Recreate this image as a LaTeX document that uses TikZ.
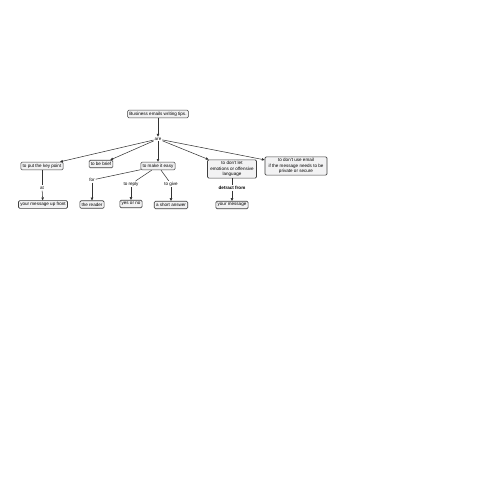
\documentclass[tikz,border=0pt]{standalone}
\usepackage{fontspec}
\setmainfont{Liberation Sans}
\usetikzlibrary{arrows.meta}

\begin{document}
\begin{tikzpicture}[x=0.02cm, y=-0.02cm,
    concept/.style={rectangle, rounded corners=0.7pt, draw=black!75, line width=0.35pt, fill=blue!3!gray!10, inner sep=1pt, minimum height=7.5*0.02cm, align=center, font=\fontsize{2.6}{3}\selectfont},
    phrase/.style={inner sep=0.4pt, fill=white, font=\fontsize{2.6}{3}\selectfont},
    link/.style={line width=0.3pt, draw=black!80},
    arr/.style={link, -{Triangle[length=1.6pt, width=1.4pt]}}]
    \useasboundingbox[fill=white] (0,0) rectangle (481,481);

    \node[concept] (tips) at (158, 114) {Business emails writing tips.};
    \node[phrase] (are) at (158, 139) {are};

    \node[concept] (key) at (42, 166) {to put the key point};
    \node[concept] (brief) at (101, 164) {to be brief};
    \node[concept] (easy) at (158, 166) {to make it easy};
    \node[concept, minimum width=49*0.02cm] (emo) at (232, 169) {to don't let\\emotions or offensive\\language};
    \node[concept, minimum width=62*0.02cm] (mail) at (296, 166) {to don't use email\\if the message needs to be\\private or secure};

    \node[phrase] (at) at (42, 188) {at};
    \node[phrase] (for) at (92, 180) {for};
    \node[phrase] (reply) at (131, 184) {to reply};
    \node[phrase] (give) at (171, 184) {to give};
    \node[phrase, font=\fontsize{2.6}{3}\selectfont\bfseries] (detract) at (232, 188) {detract from};

    \node[concept] (front) at (43, 204.5) {your message up front};
    \node[concept] (reader) at (92, 204.5) {the reader};
    \node[concept] (yesno) at (131, 204) {yes or no};
    \node[concept] (short) at (171, 205) {a short answer};
    \node[concept] (msg) at (232, 205) {your message};

    \draw[arr] (tips) to (are);
    \draw[arr] (are) to (key);
    \draw[arr] (are) to (brief);
    \draw[arr] (are) to (easy);
    \draw[arr] (are) to (emo);
    \draw[arr] (are) to (mail);

    \draw[link] (key) to (at);
    \draw[arr] (at) to (front);
    \draw[link] (easy) to (for);
    \draw[arr] (for) to (reader);
    \draw[link] (easy) to (reply);
    \draw[arr] (reply) to (yesno);
    \draw[link] (easy) to (give);
    \draw[arr] (give) to (short);
    \draw[link] (emo) to (detract);
    \draw[arr] (detract) to (msg);
\end{tikzpicture}
\end{document}
